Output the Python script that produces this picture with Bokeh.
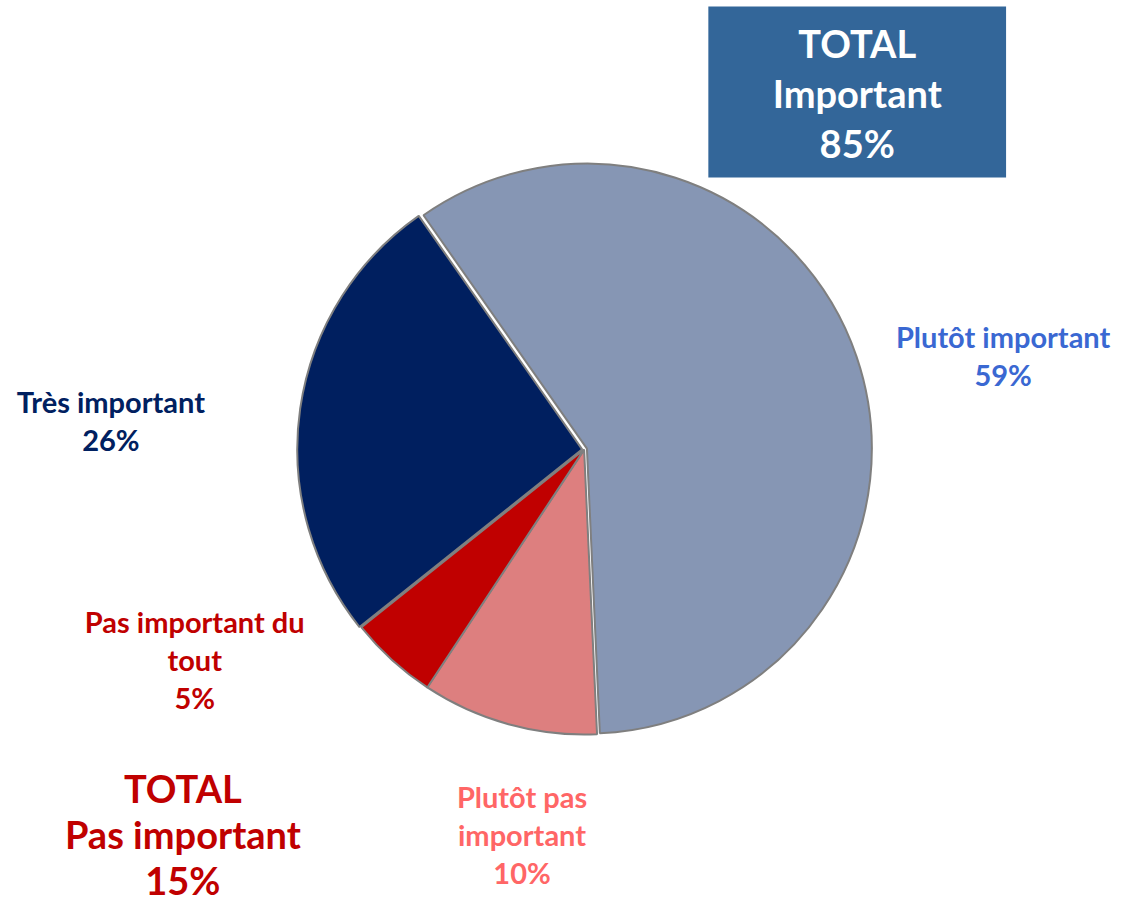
import math
from bokeh.plotting import figure
from bokeh.models import Range1d
from bokeh.core.properties import value
from bokeh.embed import file_html
from bokeh.resources import INLINE

# ---- data ----
categories = ["Plutôt important", "Plutôt pas important", "Pas important du tout", "Très important"]
values = [59, 10, 5, 26]
label_lines = [["Plutôt important", "59%"],
               ["Plutôt pas", "important", "10%"],
               ["Pas important du", "tout", "5%"],
               ["Très important", "26%"]]
total_important = ["TOTAL", "Important", "85%"]
total_pas_important = ["TOTAL", "Pas important", "15%"]

# ---- styles ----
fills = ["#8696B4", "#DD7F7F", "#C00000", "#001F5F"]
label_colors = ["#3A68D2", "#FF6666", "#C00000", "#002060"]
explode = [3.0, 0.0, 0.0, 2.0]
label_pos = [(1017, 342), (529, 810), (197, 632), (112, 408)]
FONT = "Lato"

W, H = 1131, 924
p = figure(width=1115, height=908, output_backend="svg", toolbar_location=None,
           x_range=Range1d(0, W), y_range=Range1d(0, H),
           min_border=0)
p.axis.visible = False
p.grid.visible = False
p.outline_line_color = None
p.background_fill_color = "white"

cx, cy_s, R = 592, 457, 289
start_cw = -35.0  # degrees clockwise from 12 o'clock
total = sum(values)
cum = start_cw
for i, v in enumerate(values):
    a0 = cum
    a1 = cum + 360.0 * v / total
    mid = math.radians((a0 + a1) / 2)
    ox = explode[i] * math.sin(mid)
    oy = explode[i] * math.cos(mid)
    p.wedge(x=[cx + ox], y=[H - cy_s + oy], radius=R,
            start_angle=math.radians(90 - a0), end_angle=math.radians(90 - a1),
            direction="clock", fill_color=fills[i],
            line_color="#7F7F7F", line_width=2)
    cum = a1

# slice labels
for i, lines in enumerate(label_lines):
    x, y0 = label_pos[i]
    for k, t in enumerate(lines):
        p.text(x=[x], y=[H - (y0 + 38.5 * k)], text=[t], text_align="center",
               text_baseline="middle", text_color=label_colors[i],
               text_font=value(FONT), text_font_style="bold",
               text_font_size="29px")

# TOTAL Important box
p.quad(left=[718], right=[1020], top=[H - 6], bottom=[H - 180],
       fill_color="#336699", line_color=None)
for k, t in enumerate(total_important):
    p.text(x=[869], y=[H - (43 + 51 * k)], text=[t], text_align="center",
           text_baseline="middle", text_color="white",
           text_font=value(FONT), text_font_style="bold", text_font_size="38px")

# TOTAL Pas important
for k, t in enumerate(total_pas_important):
    p.text(x=[185], y=[H - (801 + 47 * k)], text=[t], text_align="center",
           text_baseline="middle", text_color="#C00000",
           text_font=value(FONT), text_font_style="bold", text_font_size="38px")

open("out.html", "w").write(file_html(p, INLINE))
